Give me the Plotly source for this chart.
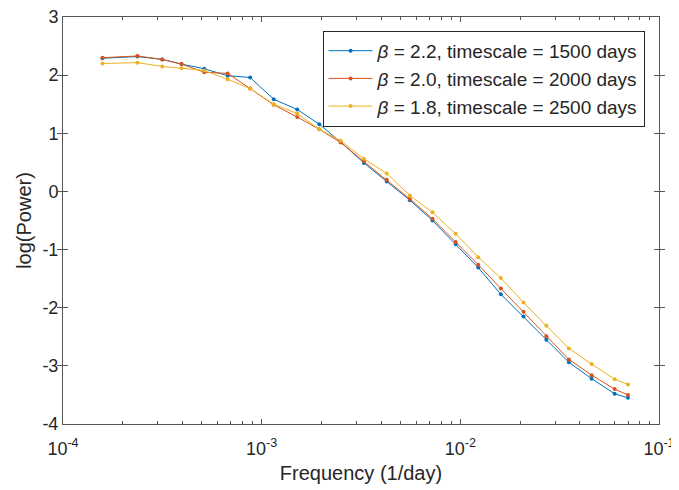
import plotly.graph_objects as go

freq = [1.58e-4, 2.37e-4, 3.16e-4, 3.95e-4, 5.14e-4, 6.74e-4, 8.75e-4, 1.15e-3,
        1.51e-3, 1.95e-3, 2.50e-3, 3.27e-3, 4.26e-3, 5.57e-3, 7.24e-3, 9.48e-3,
        1.23e-2, 1.60e-2, 2.08e-2, 2.71e-2, 3.52e-2, 4.58e-2, 5.98e-2, 6.98e-2]

power_b22 = [2.29, 2.32, 2.27, 2.19, 2.11, 1.99, 1.96, 1.585, 1.41, 1.155, 0.85, 0.49,
             0.17, -0.15, -0.50, -0.91, -1.31, -1.77, -2.15, -2.55, -2.94, -3.22, -3.48, -3.55]
power_b20 = [2.30, 2.33, 2.27, 2.19, 2.05, 2.03, 1.77, 1.49, 1.28, 1.07, 0.84, 0.52,
             0.20, -0.13, -0.47, -0.87, -1.26, -1.67, -2.07, -2.49, -2.89, -3.16, -3.40, -3.50]
power_b18 = [2.20, 2.215, 2.15, 2.12, 2.08, 1.93, 1.77, 1.50, 1.34, 1.07, 0.87, 0.56,
             0.31, -0.07, -0.36, -0.73, -1.13, -1.49, -1.91, -2.31, -2.70, -2.97, -3.23, -3.32]

series_names = ["<i>β</i> = 2.2, timescale = 1500 days",
                "<i>β</i> = 2.0, timescale = 2000 days",
                "<i>β</i> = 1.8, timescale = 2500 days"]
series_colors = ["#0072BD", "#D95319", "#EDB120"]

x_tickvals = [1e-4, 1e-3, 1e-2, 1e-1]
x_ticktext = ["10<sup>-4</sup>", "10<sup>-3</sup>", "10<sup>-2</sup>", "10<sup>-1</sup>"]
y_tickvals = [-4, -3, -2, -1, 0, 1, 2, 3]
y_ticktext = ["-4", "-3", "-2", "-1", "0", "1", "2", "3"]

# minor log tick positions (2..9 within each decade)
minor_vals = [k * 10.0 ** e for e in (-4, -3, -2) for k in range(2, 10)]

fig = go.Figure()
for name, ys, col in zip(series_names, [power_b22, power_b20, power_b18], series_colors):
    fig.add_trace(go.Scatter(x=freq, y=ys, mode="lines+markers", name=name,
                             line=dict(color=col, width=1),
                             marker=dict(color=col, size=4)))

# empty trace only to activate the overlay axis carrying the minor ticks
fig.add_trace(go.Scatter(x=[], y=[], xaxis="x2", yaxis="y", showlegend=False,
                         hoverinfo="skip"))

axis_col = "#555555"
font_fam = "Liberation Sans, Arial, sans-serif"
# the page body adds an 8px offset, so the figure is sized to fit the window
fig.update_layout(
    width=671, height=482,
    margin=dict(l=55, r=20, t=9, b=66),
    paper_bgcolor="white", plot_bgcolor="white",
    font=dict(family=font_fam, size=18, color="#262626"),
    showlegend=True,
    legend=dict(x=0.4355, y=0.966, xanchor="left", yanchor="top",
                bgcolor="white", bordercolor="#262626", borderwidth=1,
                font=dict(size=19, color="#262626"), tracegroupgap=0,
                itemwidth=44),
    xaxis=dict(type="log", range=[-4, -1], tickmode="array",
               tickvals=x_tickvals, ticktext=x_ticktext,
               ticks="inside", ticklen=5, tickcolor=axis_col,
               showline=True, linecolor=axis_col, linewidth=1, mirror="allticks",
               showgrid=False, zeroline=False, automargin=False,
               ticklabelstandoff=8, ticklabeloverflow="allow",
               title=dict(text="Frequency (1/day)", font=dict(size=20), standoff=8),
               tickfont=dict(size=18)),
    xaxis2=dict(type="log", range=[-4, -1], overlaying="x", side="bottom",
                tickmode="array", tickvals=minor_vals, showticklabels=False,
                ticks="inside", ticklen=3, tickcolor=axis_col, tickwidth=1,
                showline=False, mirror="ticks", showgrid=False, zeroline=False,
                automargin=False),
    yaxis=dict(range=[-4, 3], tickmode="array",
               tickvals=y_tickvals, ticktext=y_ticktext,
               ticks="inside", ticklen=5, tickcolor=axis_col,
               showline=True, linecolor=axis_col, linewidth=1, mirror="allticks",
               showgrid=False, zeroline=False, automargin=False,
               ticklabeloverflow="allow",
               title=dict(text="log(Power)", font=dict(size=20), standoff=5),
               tickfont=dict(size=18)),
)

fig.write_html("out.html")
